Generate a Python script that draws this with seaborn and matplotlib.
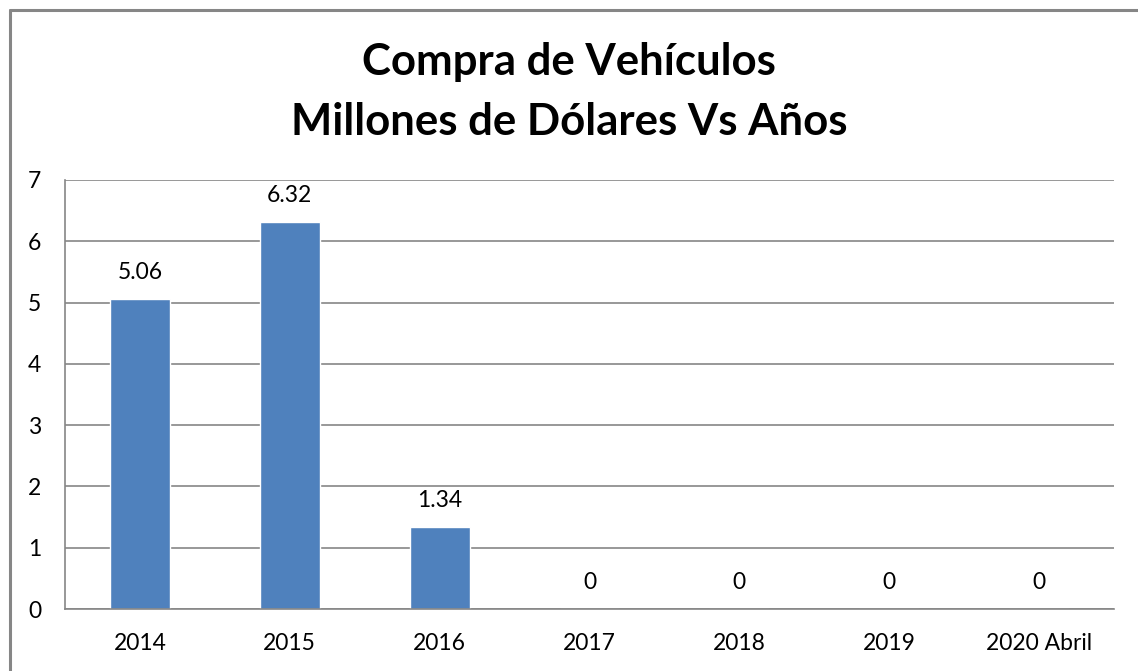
import matplotlib
matplotlib.use('Agg')
import matplotlib.pyplot as plt
import seaborn as sns
import pandas as pd
from matplotlib.lines import Line2D

# Chart data
years = ['2014', '2015', '2016', '2017', '2018', '2019', '2020 Abril']
values = [5.06, 6.32, 1.34, 0, 0, 0, 0]
labels = ['5.06', '6.32', '1.34', '0', '0', '0', '0']

df = pd.DataFrame({'year': years, 'value': values})

sns.set_style('white')
plt.rcParams['font.family'] = ['Lato', 'DejaVu Sans']
plt.rcParams['text.color'] = 'black'
plt.rcParams['xtick.color'] = 'black'
plt.rcParams['ytick.color'] = 'black'

W, H = 1138, 671
fig = plt.figure(figsize=(W / 100, H / 100), dpi=100)
ax = fig.add_axes([65 / W, 1 - 609 / H, (1114 - 65) / W, (609 - 180) / H])

sns.barplot(data=df, x='year', y='value', color='#4F81BD', saturation=1,
            width=0.4, ax=ax)

grey = '#868686'
ax.set_ylim(0, 7)
ax.set_xlim(-0.5, len(years) - 0.5)
ax.set_yticks(range(0, 8))
ax.yaxis.grid(True, color=grey, linewidth=1.2)
ax.set_axisbelow(True)
ax.set_xlabel('')
ax.set_ylabel('')

for side in ['top', 'right']:
    ax.spines[side].set_visible(False)
for side in ['left', 'bottom']:
    ax.spines[side].set_color(grey)
    ax.spines[side].set_linewidth(1.2)

# ticks between categories, labels centered
ax.set_xticks([i + 0.5 for i in range(-1, len(years))], minor=True)
ax.tick_params(axis='x', which='minor', length=7, color=grey, width=1.2)
ax.tick_params(axis='x', which='major', length=0, labelsize=16.5, pad=17)
ax.tick_params(axis='y', length=7, color=grey, width=1.2, labelsize=16.5, pad=10)

for i, (v, lab) in enumerate(zip(values, labels)):
    ax.annotate(lab, (i, v), xytext=(0, 19), textcoords='offset points',
                ha='center', va='center', fontsize=16.5)

fig.text(0.5, 1 - 62 / H, 'Compra de Vehículos', ha='center', va='center',
         fontsize=31.5, fontweight='bold')
fig.text(0.5, 1 - 122 / H, 'Millones de Dólares Vs Años', ha='center', va='center',
         fontsize=31.5, fontweight='bold')

# chart area border
fig.add_artist(Line2D([10 / W, 10 / W], [0, 1 - 10 / H], color=grey, linewidth=2.2))
fig.add_artist(Line2D([10 / W, 1], [1 - 10 / H, 1 - 10 / H], color=grey, linewidth=2.2))

fig.savefig('out.png', dpi=100, facecolor='white')
